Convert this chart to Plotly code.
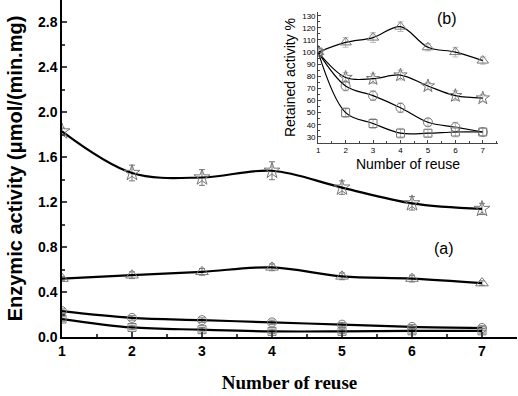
import plotly.graph_objects as go

reuse = [1, 2, 3, 4, 5, 6, 7]

# (a) enzymic activity, umol/(min.mg)
act_star = [1.83, 1.46, 1.42, 1.48, 1.33, 1.19, 1.14]
err_star = [0.03, 0.07, 0.07, 0.08, 0.06, 0.06, 0.05]
act_tri = [0.52, 0.55, 0.58, 0.62, 0.54, 0.52, 0.48]
err_tri = [0.02, 0.03, 0.03, 0.03, 0.03, 0.03, 0.02]
act_circ = [0.23, 0.17, 0.15, 0.13, 0.11, 0.09, 0.08]
err_circ = [0.02, 0.02, 0.02, 0.02, 0.02, 0.02, 0.02]
act_sq = [0.16, 0.085, 0.065, 0.05, 0.05, 0.055, 0.055]
err_sq = [0.02, 0.02, 0.02, 0.02, 0.02, 0.02, 0.02]

# (b) retained activity %
ret_tri = [100, 108, 112, 121, 104, 100, 93]
ret_star = [100, 79, 78, 81, 72, 64, 62]
ret_circ = [100, 72, 64, 54, 42, 38, 34]
ret_sq = [100, 50, 41, 33, 33, 34, 34]
ret_err = [2, 4, 4, 4, 3, 4, 3]

fig = go.Figure()

MARK = "#777777"

def add(x, y, err, sym, xa, ya, lw, ms, ecol):
    fig.add_trace(go.Scatter(
        x=x, y=y, xaxis=xa, yaxis=ya, mode="lines+markers",
        line=dict(color="black", width=lw, shape="spline", smoothing=1.0),
        marker=dict(symbol=sym, size=ms, color=MARK, line=dict(color=MARK, width=1)),
        error_y=dict(type="data", array=err, color=ecol, thickness=1, width=3),
        showlegend=False))

add(reuse, act_star, err_star, "star-open", "x", "y", 2.2, 12, MARK)
add(reuse, act_tri, err_tri, "triangle-up-open", "x", "y", 2.2, 11, MARK)
add(reuse, act_circ, err_circ, "circle-open", "x", "y", 2.2, 9, MARK)
add(reuse, act_sq, err_sq, "square-open", "x", "y", 2.2, 8, MARK)

add(reuse, ret_tri, ret_err, "triangle-up-open", "x2", "y2", 1.2, 10, "#bbbbbb")
add(reuse, ret_star, ret_err, "star-open", "x2", "y2", 1.2, 10, "#bbbbbb")
add(reuse, ret_circ, ret_err, "circle-open", "x2", "y2", 1.2, 9, "#bbbbbb")
add(reuse, ret_sq, ret_err, "square-open", "x2", "y2", 1.2, 8, "#bbbbbb")

fig.update_layout(
    width=518, height=396,
    margin=dict(l=62, r=1, t=0, b=59),
    plot_bgcolor="white", paper_bgcolor="white",
    font=dict(family="Liberation Sans, Arial", color="black"),
    xaxis=dict(range=[1, 7.5], domain=[0, 1], tickvals=reuse, showline=True, linecolor="black",
               linewidth=1.5, ticks="inside", ticklen=5, tickwidth=1.5,
               minor=dict(ticks="inside", ticklen=3, dtick=0.5, tickwidth=1.5, tick0=0),
               showgrid=False, zeroline=False,
               tickfont=dict(size=14, weight="bold"),
               title=dict(text="Number of reuse", standoff=18,
                          font=dict(size=19, family="Liberation Serif, Times New Roman", weight="bold"))),
    yaxis=dict(range=[0, 3.0], domain=[0, 1], tickvals=[0, 0.4, 0.8, 1.2, 1.6, 2.0, 2.4, 2.8],
               ticktext=["0.0", "0.4", "0.8", "1.2", "1.6", "2.0", "2.4", "2.8"],
               showline=True, linecolor="black", linewidth=1.5, ticks="inside", ticklen=5, tickwidth=1.5,
               minor=dict(ticks="inside", ticklen=3, dtick=0.2, tickwidth=1.5),
               showgrid=False, zeroline=False,
               tickfont=dict(size=14, weight="bold"),
               title=dict(text="Enzymic activity (μmol/(min.mg)", standoff=10,
                          font=dict(size=20, weight="bold"))),
    xaxis2=dict(range=[1, 7.55], domain=[0.563, 0.958], anchor="y2", tickvals=reuse,
                showline=True, linecolor="#444", linewidth=1, ticks="inside", ticklen=3,
                minor=dict(ticks="inside", ticklen=2, dtick=0.5),
                showgrid=False, zeroline=False, tickfont=dict(size=8),
                title=dict(text="Number of reuse", standoff=4, font=dict(size=14))),
    yaxis2=dict(range=[25, 133], domain=[0.576, 0.964], anchor="x2", dtick=10,
                showline=True, linecolor="#444", linewidth=1, ticks="inside", ticklen=3,
                minor=dict(ticks="inside", ticklen=2, dtick=5),
                showgrid=False, zeroline=False, tickfont=dict(size=8),
                title=dict(text="Retained activity %", standoff=3, font=dict(size=14))),
    annotations=[
        dict(text="(a)", x=456, y=259, xref="paper", yref="paper", showarrow=False,
             font=dict(size=16)),
        dict(text="(b)", x=459, y=8, xref="paper", yref="paper", showarrow=False,
             font=dict(size=16)),
    ],
)
# convert annotation pixel positions to paper fractions
pw, ph = 518 - 62 - 1, 396 - 0 - 59
for a in fig.layout.annotations:
    a.x = (a.x - 62) / pw
    a.y = (337 - a.y) / ph

fig.write_html("out.html")
